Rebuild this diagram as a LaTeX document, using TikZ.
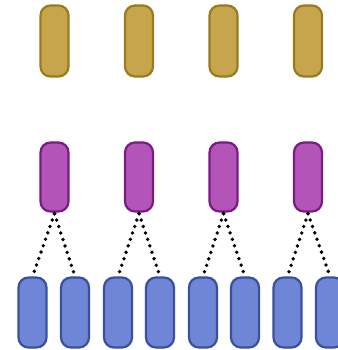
\documentclass[tikz,border=0pt]{standalone}
\begin{document}
\begin{tikzpicture}[x=1pt,y=-1pt,
  cell/.style={rectangle, rounded corners=10pt, minimum width=28pt, line width=2.2pt, inner sep=0pt},
  topcell/.style={cell, minimum height=71pt, fill=topfill, draw=topline},
  midcell/.style={cell, minimum height=69pt, fill=midfill, draw=midline},
  lowcell/.style={cell, minimum height=70pt, fill=lowfill, draw=lowline},
  link/.style={line width=3.8pt, line cap=round, dash pattern=on 0pt off 6.8pt, draw=black}]
\definecolor{topfill}{HTML}{C6A54D}
\definecolor{topline}{HTML}{9A7B1E}
\definecolor{midfill}{HTML}{B355B8}
\definecolor{midline}{HTML}{7B1A85}
\definecolor{lowfill}{HTML}{6F86D6}
\definecolor{lowline}{HTML}{3B4FA0}
\useasboundingbox (0,0) rectangle (337,350);
\fill[white] (0,0) rectangle (337,350);
% upper row
\foreach \i/\x in {1/54.5,2/139,3/223.5,4/308}{
  \node[topcell] (t\i) at (\x,41) {};
  \node[midcell] (m\i) at (\x,177) {};
}
% lower row
\foreach \j/\x in {1/32.5,2/75,3/118,4/160,5/203,6/245,7/287.5,8/330}{
  \node[lowcell] (b\j) at (\x,312.5) {};
}
% dotted links from each middle cell to its pair of lower cells
\foreach \i [evaluate=\i as \a using int(2*\i-1), evaluate=\i as \b using int(2*\i)] in {1,2,3,4}{
  \draw[link] ([yshift=-1pt]m\i.south) -- (b\a.north);
  \draw[link] ([yshift=-1pt]m\i.south) -- (b\b.north);
}
\end{tikzpicture}
\end{document}
